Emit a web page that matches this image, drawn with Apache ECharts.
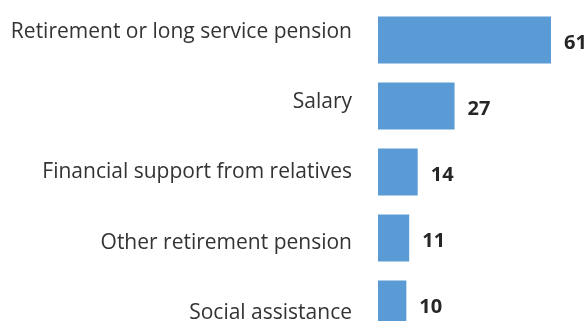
<!DOCTYPE html>
<html>
<head>
<meta charset="utf-8">
<style>
  html, body { margin: 0; padding: 0; background: #ffffff; overflow: hidden; }
  #chart { position: relative; top: -10px; width: 588px; height: 370px; }
</style>
<script src="https://cdn.jsdelivr.net/npm/echarts@6/dist/echarts.min.js"></script>
</head>
<body>
<div id="chart"></div>
<script>
// Sources of income, share of respondents
const categories = [
  'Retirement or long service pension',
  'Salary',
  'Financial support from relatives',
  'Other retirement pension',
  'Social assistance'
];
const values = [61, 27, 14, 11, 10];

const chart = echarts.init(document.getElementById('chart'), null, { renderer: 'canvas' });

chart.setOption({
  animation: false,
  backgroundColor: '#ffffff',
  grid: [
    // bars
    { left: 378, width: 198.5, top: 17, height: 330, containLabel: false },
    // category names (spaced slightly wider than the bars)
    { left: 378, width: 198.5, top: 7, height: 351, containLabel: false }
  ],
  xAxis: [
    { gridIndex: 0, type: 'value', min: 0, max: 70, show: false },
    { gridIndex: 1, type: 'value', min: 0, max: 70, show: false }
  ],
  yAxis: [
    {
      gridIndex: 0, type: 'category', data: categories, inverse: true,
      axisLine: { show: false }, axisTick: { show: false }, axisLabel: { show: false },
      splitLine: { show: false }
    },
    {
      gridIndex: 1, type: 'category', data: categories, inverse: true,
      axisLine: { show: false }, axisTick: { show: false }, splitLine: { show: false },
      axisLabel: {
        margin: 26,
        color: '#333333',
        fontFamily: 'Open Sans',
        fontSize: 21
      }
    }
  ],
  series: [{
    type: 'bar',
    xAxisIndex: 0,
    yAxisIndex: 0,
    data: values,
    barWidth: 47,
    itemStyle: { color: '#5B9BD5' },
    label: {
      show: true,
      position: 'right',
      distance: 13,
      offset: [0, 3],
      color: '#262626',
      fontFamily: 'Open Sans',
      fontWeight: 'bold',
      fontSize: 20
    }
  }]
});
</script>
</body>
</html>
